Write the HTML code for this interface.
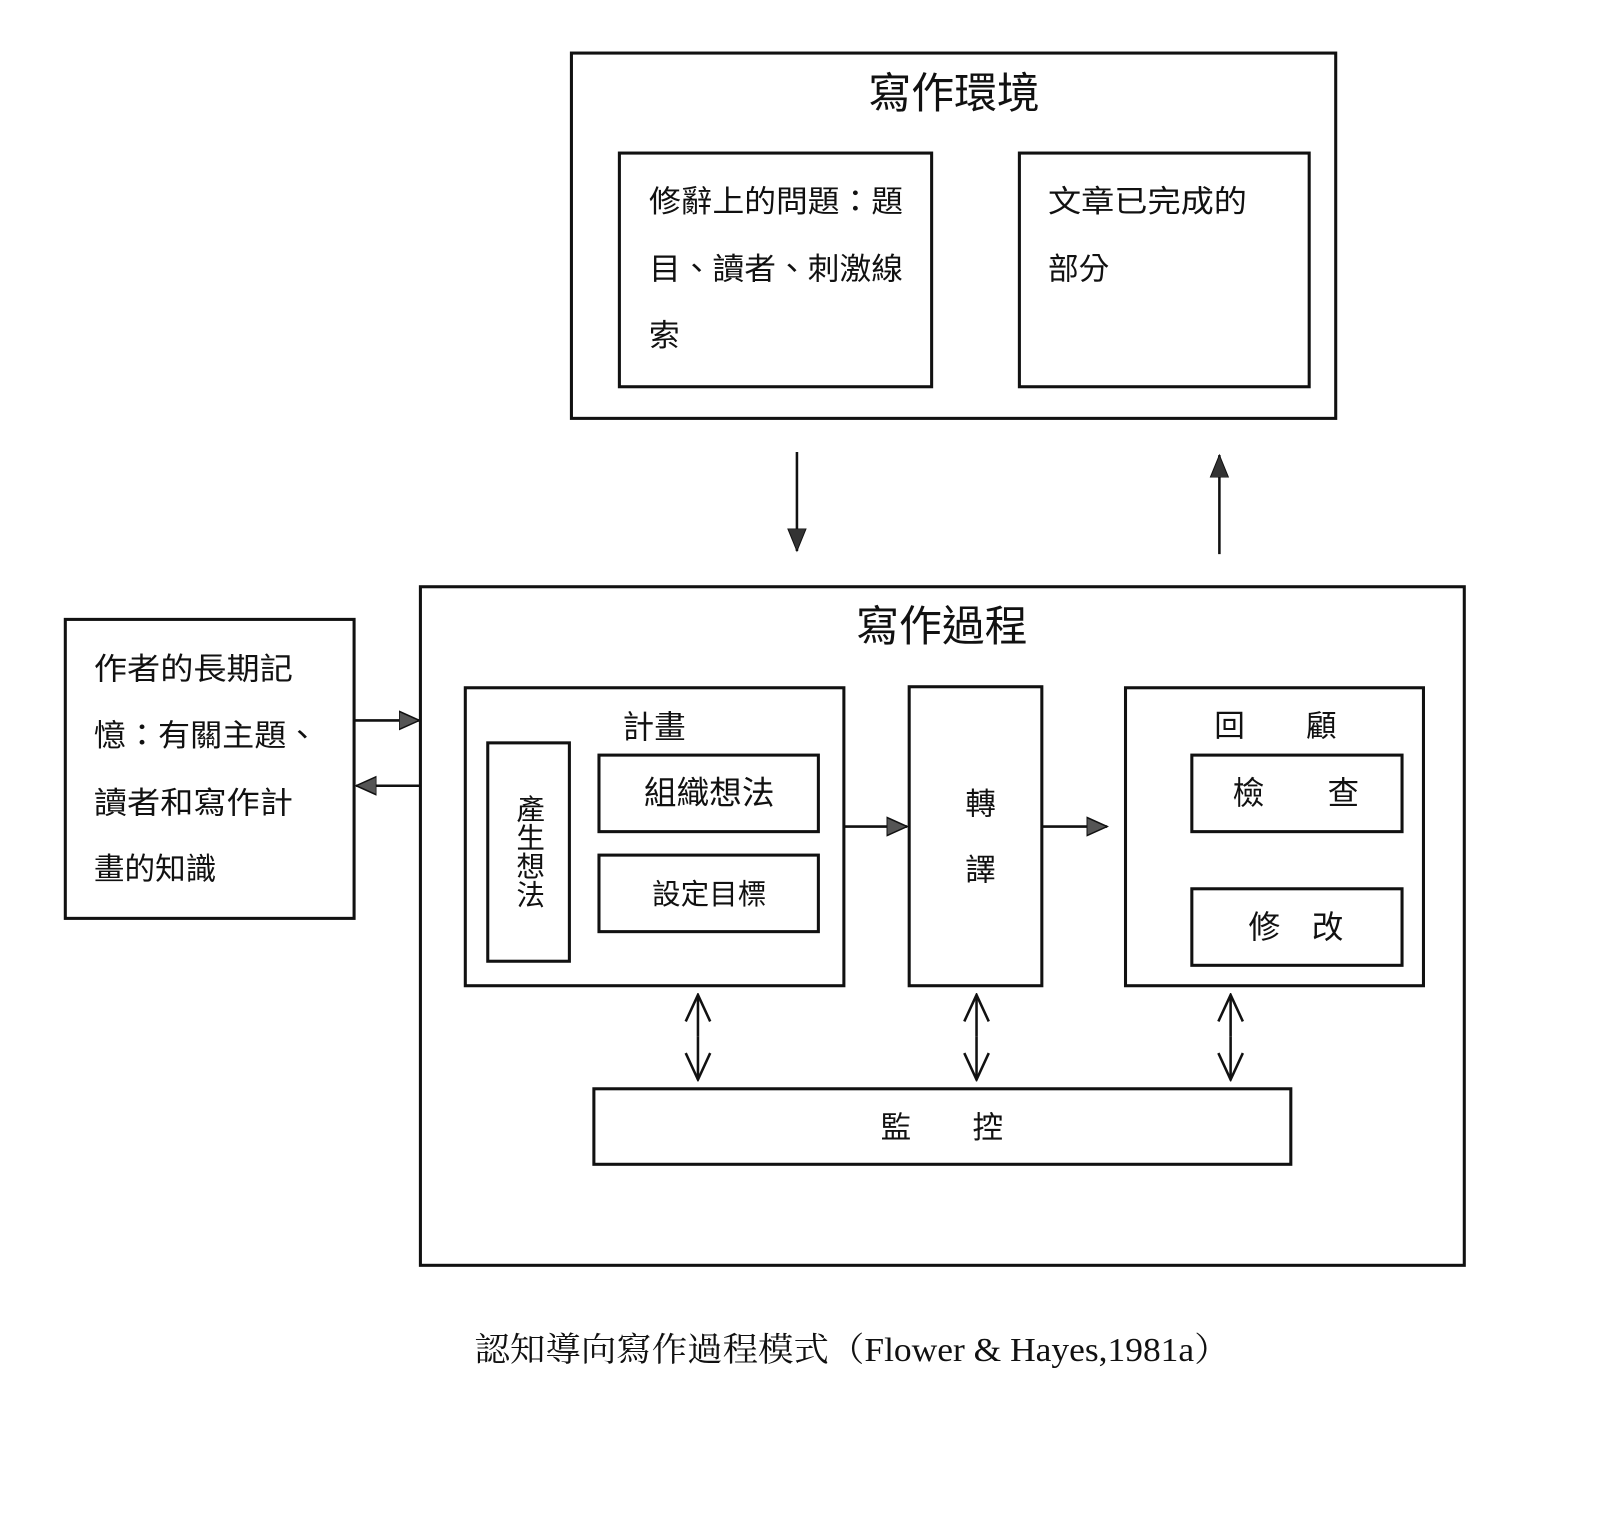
<!DOCTYPE html>
<html><head><meta charset="utf-8"><style>
html,body{margin:0;padding:0;background:#fff;}
svg{display:block;}
text{font-family:"Liberation Sans","Noto Sans CJK TC",sans-serif;fill:#111;}
.s{font-family:"Liberation Serif","Noto Serif CJK SC",serif;}
</style></head><body>
<svg width="1600" height="1519" viewBox="0 0 1568 1488.6" xmlns="http://www.w3.org/2000/svg">
<defs>
<marker id="tri" markerWidth="10" markerHeight="10" refX="9" refY="5" orient="auto" markerUnits="userSpaceOnUse" viewBox="0 0 10 10">
<path d="M0,0 L10,5 L0,10 Z" fill="#555" stroke="#111" stroke-width="1"/></marker>
<marker id="triB" markerWidth="22" markerHeight="22" refX="20" refY="11" orient="auto" markerUnits="userSpaceOnUse">
<path d="M0,2 L20,11 L0,20 Z" fill="#555" stroke="#111" stroke-width="1.5"/></marker>
<marker id="v" markerWidth="30" markerHeight="30" refX="28" refY="15" orient="auto" markerUnits="userSpaceOnUse">
<path d="M2,3 L28,15 L2,27" fill="none" stroke="#111" stroke-width="2.5"/></marker>
<marker id="thin" markerWidth="24" markerHeight="24" refX="22" refY="12" orient="auto" markerUnits="userSpaceOnUse">
<path d="M0,3 L22,12 L0,21 Z" fill="#333" stroke="#111" stroke-width="1"/></marker>
</defs>
<g fill="none" stroke="#111" stroke-width="3">
<rect x="560" y="52" width="749" height="358"/>
<rect x="607" y="150" width="306" height="229"/>
<rect x="999" y="150" width="284" height="229"/>
<rect x="64" y="607" width="283" height="293"/>
<rect x="412" y="575" width="1023" height="665"/>
<rect x="456" y="674" width="371" height="292"/>
<rect x="478" y="728" width="80" height="214"/>
<rect x="587" y="740" width="215" height="75"/>
<rect x="587" y="838" width="215" height="75"/>
<rect x="891" y="673" width="130" height="293"/>
<rect x="1103" y="674" width="292" height="292"/>
<rect x="1168" y="740" width="206" height="75"/>
<rect x="1168" y="871" width="206" height="75"/>
<rect x="582" y="1067" width="683" height="74"/>
</g>
<g stroke="#111" stroke-width="2.5" fill="none">
<line x1="781" y1="443" x2="781" y2="540" marker-end="url(#thin)"/>
<line x1="1195" y1="543" x2="1195" y2="446" marker-end="url(#thin)"/>
<line x1="347" y1="706" x2="411" y2="706" marker-end="url(#triB)"/>
<line x1="412" y1="770" x2="349" y2="770" marker-end="url(#triB)"/>
<line x1="827" y1="810" x2="889" y2="810" marker-end="url(#triB)"/>
<line x1="1021" y1="810" x2="1085" y2="810" marker-end="url(#triB)"/>
<line x1="684" y1="1016" x2="684" y2="975" marker-end="url(#v)"/>
<line x1="684" y1="1016" x2="684" y2="1058" marker-end="url(#v)"/>
<line x1="957" y1="1016" x2="957" y2="975" marker-end="url(#v)"/>
<line x1="957" y1="1016" x2="957" y2="1058" marker-end="url(#v)"/>
<line x1="1206" y1="1016" x2="1206" y2="975" marker-end="url(#v)"/>
<line x1="1206" y1="1016" x2="1206" y2="1058" marker-end="url(#v)"/>
</g>
<text x="935" y="106" font-size="42" text-anchor="middle">寫作環境</text>
<g font-size="30">
<text x="636" y="208" textLength="249" lengthAdjust="spacingAndGlyphs">修辭上的問題：題</text>
<text x="636" y="274" textLength="249" lengthAdjust="spacingAndGlyphs">目、讀者、刺激線</text>
<text x="636" y="339">索</text>
<text x="1027" y="208" textLength="195" lengthAdjust="spacingAndGlyphs">文章已完成的</text>
<text x="1027" y="274">部分</text>
<text x="92" y="666" textLength="195" lengthAdjust="spacingAndGlyphs">作者的長期記</text>
<text x="92" y="731" textLength="220" lengthAdjust="spacingAndGlyphs">憶：有關主題、</text>
<text x="92" y="797" textLength="195" lengthAdjust="spacingAndGlyphs">讀者和寫作計</text>
<text x="92" y="862">畫的知識</text>
</g>
<text x="923" y="628" font-size="42" text-anchor="middle">寫作過程</text>
<text x="641" y="723" font-size="31" text-anchor="middle">計畫</text>
<g font-size="28" text-anchor="middle">
<text x="520" y="803">產</text><text x="520" y="831">生</text><text x="520" y="859">想</text><text x="520" y="887">法</text>
</g>
<text x="695" y="788" font-size="32" text-anchor="middle">組織想法</text>
<text x="695" y="886" font-size="28" text-anchor="middle">設定目標</text>
<text x="961" y="798" font-size="30" text-anchor="middle">轉</text>
<text x="961" y="863" font-size="30" text-anchor="middle">譯</text>
<text x="1250" y="722" font-size="30" text-anchor="middle">回　　顧</text>
<text x="1270" y="788" font-size="31" text-anchor="middle">檢　　查</text>
<text x="1270" y="919" font-size="31" text-anchor="middle">修　改</text>
<text x="923" y="1115" font-size="30" text-anchor="middle">監　　控</text>
<text class="s" x="835" y="1334" font-size="33" text-anchor="middle" textLength="740" lengthAdjust="spacingAndGlyphs">認知導向寫作過程模式（Flower &amp; Hayes,1981a）</text>
</svg>
</body></html>
